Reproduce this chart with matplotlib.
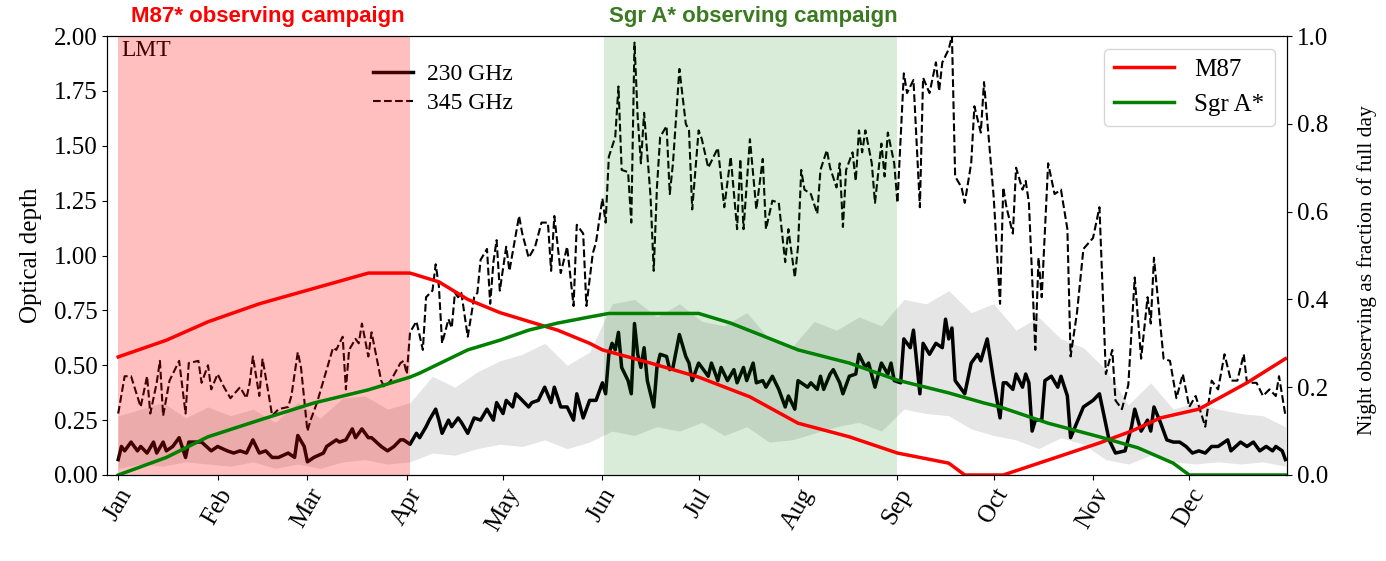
import numpy as np
import matplotlib
matplotlib.use('Agg')
import matplotlib.pyplot as plt

plt.rcParams['font.family'] = ['Liberation Serif', 'DejaVu Serif']
plt.rcParams['font.size'] = 18

# month start days (day of year, 0 = Jan 1)
month_days = [0, 31, 59, 90, 120, 151, 181, 212, 243, 273, 304, 334]
month_names = ['Jan', 'Feb', 'Mar', 'Apr', 'May', 'Jun',
               'Jul', 'Aug', 'Sep', 'Oct', 'Nov', 'Dec']

# 230 GHz median optical depth at LMT
days_230 = [0, 1, 2, 4, 6, 7, 9, 11, 12, 14, 15, 17, 19, 21, 22, 25, 26, 29, 31, 34,
            36, 38, 40, 42, 44, 46, 48, 50, 53, 55, 56, 58, 59, 61, 64, 65, 68, 69, 71, 73,
            74, 76, 78, 79, 82, 84, 86, 88, 89, 91, 93, 94, 96, 97, 99, 100, 101, 103, 104, 106,
            107, 109, 111, 113, 115, 117, 118, 120, 121, 123, 124, 126, 128, 129, 131, 133, 135, 136, 138, 140,
            142, 143, 145, 147, 149, 151, 152, 153, 154, 155, 156, 157, 159, 160, 161, 162, 163, 164, 165, 167,
            168, 169, 171, 172, 173, 175, 177, 178, 179, 181, 182, 184, 185, 187, 188, 190, 192, 193, 195, 196,
            198, 199, 201, 202, 204, 206, 208, 209, 211, 212, 213, 215, 216, 218, 219, 220, 222, 223, 225, 226,
            228, 230, 231, 233, 234, 236, 238, 240, 241, 242, 244, 245, 247, 248, 250, 251, 253, 255, 257, 258,
            259, 260, 261, 264, 266, 268, 269, 271, 273, 275, 276, 277, 279, 280, 282, 283, 284, 285, 286, 288,
            289, 291, 293, 294, 296, 297, 299, 301, 303, 304, 306, 307, 309, 311, 314, 316, 317, 319, 321, 322,
            323, 325, 327, 329, 331, 333, 335, 337, 339, 341, 343, 346, 347, 350, 352, 354, 356, 358, 360, 361,
            363, 364]
tau_230 = [0.07, 0.13, 0.11, 0.15, 0.11, 0.13, 0.10, 0.15, 0.10, 0.15, 0.11, 0.13, 0.17, 0.08, 0.15, 0.15, 0.15, 0.11, 0.13, 0.11,
           0.10, 0.11, 0.10, 0.16, 0.10, 0.11, 0.08, 0.08, 0.10, 0.08, 0.18, 0.13, 0.06, 0.08, 0.10, 0.13, 0.16, 0.15, 0.16, 0.21,
           0.17, 0.21, 0.17, 0.17, 0.13, 0.11, 0.13, 0.16, 0.16, 0.14, 0.19, 0.17, 0.22, 0.25, 0.30, 0.25, 0.19, 0.25, 0.22, 0.26,
           0.24, 0.19, 0.26, 0.25, 0.30, 0.25, 0.33, 0.28, 0.34, 0.31, 0.37, 0.34, 0.31, 0.33, 0.34, 0.40, 0.33, 0.40, 0.31, 0.31,
           0.25, 0.37, 0.26, 0.34, 0.34, 0.42, 0.37, 0.55, 0.60, 0.57, 0.65, 0.49, 0.43, 0.37, 0.69, 0.55, 0.49, 0.58, 0.43, 0.31,
           0.49, 0.55, 0.54, 0.48, 0.49, 0.64, 0.54, 0.51, 0.43, 0.51, 0.49, 0.45, 0.51, 0.43, 0.49, 0.43, 0.48, 0.42, 0.49, 0.43,
           0.51, 0.42, 0.43, 0.40, 0.45, 0.39, 0.31, 0.36, 0.30, 0.43, 0.42, 0.40, 0.42, 0.39, 0.45, 0.39, 0.46, 0.48, 0.42, 0.37,
           0.45, 0.46, 0.55, 0.49, 0.51, 0.40, 0.51, 0.46, 0.51, 0.43, 0.42, 0.62, 0.58, 0.66, 0.37, 0.60, 0.55, 0.60, 0.58, 0.71,
           0.62, 0.67, 0.43, 0.37, 0.51, 0.55, 0.52, 0.62, 0.43, 0.26, 0.42, 0.42, 0.39, 0.46, 0.40, 0.46, 0.42, 0.20, 0.25, 0.25,
           0.43, 0.45, 0.40, 0.45, 0.36, 0.17, 0.24, 0.31, 0.33, 0.34, 0.37, 0.30, 0.16, 0.10, 0.11, 0.22, 0.30, 0.20, 0.25, 0.20,
           0.31, 0.24, 0.16, 0.15, 0.15, 0.13, 0.10, 0.11, 0.10, 0.13, 0.13, 0.16, 0.11, 0.15, 0.13, 0.15, 0.11, 0.13, 0.11, 0.13,
           0.11, 0.07]

# spread of 230 GHz optical depth (grey band)
band_days = [0, 7, 14, 21, 28, 35, 42, 49, 56, 63, 70, 77, 84, 91, 98, 105, 112, 119, 126, 133,
             140, 147, 154, 161, 168, 175, 182, 189, 196, 203, 210, 217, 224, 231, 238, 245, 252, 259, 266, 273,
             280, 287, 294, 301, 308, 315, 322, 329, 336, 343, 350, 357, 364]
band_low = [0.03, 0.05, 0.04, 0.06, 0.05, 0.04, 0.06, 0.03, 0.05, 0.03, 0.06, 0.07, 0.05, 0.06, 0.10, 0.09, 0.12, 0.14, 0.13, 0.16,
            0.12, 0.15, 0.20, 0.18, 0.22, 0.20, 0.24, 0.18, 0.22, 0.15, 0.16, 0.19, 0.22, 0.24, 0.20, 0.30, 0.28, 0.27, 0.21, 0.18,
            0.16, 0.12, 0.17, 0.14, 0.07, 0.05, 0.09, 0.06, 0.05, 0.06, 0.05, 0.06, 0.04]
band_high = [0.27, 0.30, 0.33, 0.26, 0.31, 0.27, 0.30, 0.24, 0.33, 0.26, 0.35, 0.36, 0.30, 0.33, 0.45, 0.40, 0.47, 0.52, 0.55, 0.60,
             0.50, 0.56, 0.78, 0.80, 0.72, 0.78, 0.70, 0.68, 0.74, 0.62, 0.58, 0.70, 0.66, 0.72, 0.68, 0.80, 0.78, 0.84, 0.74, 0.78,
             0.66, 0.72, 0.62, 0.58, 0.48, 0.32, 0.42, 0.30, 0.33, 0.30, 0.28, 0.27, 0.22]

# 345 GHz median optical depth at LMT
days_345 = [0, 2, 4, 7, 9, 10, 12, 13, 14, 16, 19, 21, 22, 25, 26, 28, 29, 31, 33, 35,
            38, 40, 41, 42, 44, 45, 47, 48, 50, 53, 54, 56, 57, 59, 60, 62, 64, 67, 68, 70,
            71, 72, 74, 75, 76, 78, 79, 82, 83, 85, 88, 89, 90, 91, 93, 95, 96, 98, 99, 100,
            101, 103, 104, 105, 106, 107, 109, 111, 112, 113, 115, 116, 117, 118, 119, 121, 122, 125, 126, 128,
            130, 132, 134, 135, 136, 138, 140, 142, 143, 145, 146, 148, 149, 151, 152, 153, 155, 156, 157, 159,
            160, 161, 162, 163, 164, 166, 167, 168, 169, 171, 172, 173, 175, 177, 178, 179, 181, 182, 184, 187,
            189, 191, 193, 194, 195, 197, 199, 201, 202, 204, 206, 208, 209, 211, 212, 213, 214, 216, 218, 219,
            221, 222, 224, 225, 226, 227, 229, 230, 231, 232, 233, 235, 236, 238, 239, 240, 242, 243, 245, 246,
            248, 250, 251, 253, 255, 256, 257, 259, 260, 261, 263, 264, 266, 267, 269, 270, 273, 275, 276, 277,
            279, 280, 282, 283, 284, 286, 287, 288, 290, 292, 294, 296, 297, 299, 301, 304, 306, 308, 310, 311,
            313, 315, 317, 319, 321, 322, 323, 326, 328, 330, 332, 334, 336, 339, 341, 343, 345, 347, 349, 351,
            352, 355, 357, 359, 361, 362, 364]
tau_345 = [0.28, 0.45, 0.45, 0.31, 0.45, 0.28, 0.42, 0.52, 0.27, 0.43, 0.52, 0.28, 0.51, 0.52, 0.42, 0.50, 0.39, 0.46, 0.40, 0.35,
           0.40, 0.35, 0.42, 0.54, 0.36, 0.53, 0.36, 0.27, 0.30, 0.31, 0.36, 0.56, 0.49, 0.20, 0.25, 0.33, 0.43, 0.58, 0.57, 0.63,
           0.39, 0.57, 0.62, 0.60, 0.69, 0.54, 0.65, 0.43, 0.40, 0.43, 0.51, 0.52, 0.46, 0.65, 0.70, 0.57, 0.81, 0.84, 0.96, 0.86,
           0.60, 0.71, 0.67, 0.83, 0.81, 0.83, 0.63, 0.81, 0.83, 0.98, 1.03, 0.78, 0.97, 1.07, 0.84, 1.04, 0.93, 1.18, 1.10, 0.99,
           1.04, 1.15, 1.15, 0.93, 1.18, 0.92, 1.04, 0.77, 1.14, 1.10, 0.77, 1.01, 1.06, 1.26, 1.15, 1.45, 1.54, 1.77, 1.39, 1.38,
           1.15, 1.97, 1.63, 1.42, 1.65, 1.27, 0.93, 1.31, 1.54, 1.59, 1.28, 1.42, 1.85, 1.60, 1.57, 1.21, 1.57, 1.53, 1.40, 1.49,
           1.22, 1.45, 1.12, 1.44, 1.12, 1.53, 1.21, 1.44, 1.12, 1.25, 1.24, 0.97, 1.12, 0.90, 1.04, 1.39, 1.30, 1.28, 1.19, 1.39,
           1.48, 1.40, 1.31, 1.42, 1.13, 1.39, 1.47, 1.34, 1.57, 1.47, 1.57, 1.42, 1.24, 1.51, 1.36, 1.56, 1.42, 1.24, 1.83, 1.74,
           1.80, 1.22, 1.81, 1.74, 1.88, 1.75, 1.88, 1.94, 2.00, 1.36, 1.31, 1.24, 1.42, 1.68, 1.56, 1.79, 1.27, 0.78, 1.31, 1.22,
           1.10, 1.40, 1.30, 1.34, 1.24, 0.57, 0.99, 0.81, 1.42, 1.28, 1.30, 1.12, 0.54, 0.74, 1.03, 1.08, 1.22, 0.46, 0.57, 0.34,
           0.30, 0.41, 0.90, 0.53, 0.81, 0.69, 0.99, 0.53, 0.52, 0.35, 0.46, 0.31, 0.36, 0.22, 0.43, 0.39, 0.55, 0.43, 0.43, 0.55,
           0.42, 0.42, 0.36, 0.39, 0.36, 0.45, 0.27]

# night fraction available for each source
days_m87 = [0, 15, 28, 44, 61, 78, 91, 100, 109, 119, 128, 137, 147, 151, 166, 181, 197, 212, 228, 243,
            259, 264, 276, 290, 306, 316, 325, 337, 352, 364]
night_m87 = [0.269, 0.307, 0.349, 0.39, 0.425, 0.46, 0.46, 0.44, 0.40, 0.37, 0.35, 0.33, 0.30, 0.285, 0.255, 0.223, 0.178, 0.118, 0.087, 0.05,
             0.027, 0.0, 0.0, 0.034, 0.073, 0.10, 0.13, 0.15, 0.21, 0.265]
days_sgra = [0, 15, 28, 44, 61, 78, 91, 94, 109, 119, 128, 137, 147, 153, 170, 181, 191, 200, 212, 228,
             243, 259, 270, 275, 290, 306, 318, 329, 334, 364]
night_sgra = [0.0, 0.04, 0.087, 0.125, 0.164, 0.194, 0.223, 0.232, 0.285, 0.307, 0.33, 0.346, 0.36, 0.368, 0.368, 0.368, 0.346, 0.32, 0.285, 0.255,
              0.216, 0.187, 0.164, 0.155, 0.118, 0.087, 0.062, 0.027, 0.0, 0.0]

fig = plt.figure(figsize=(13.86, 5.61), dpi=100)
ax = fig.add_axes([0.0772, 0.1533, 0.8514, 0.7825])

ax.fill_between(band_days, band_low, band_high, color='0.5', alpha=0.2, lw=0)
ax.plot(days_230, tau_230, color='k', lw=2.5, label='230 GHz')
ax.plot(days_345, tau_345, color='k', lw=1.5, ls='--', label='345 GHz')
ax.text(0.012, 0.99, 'LMT', transform=ax.transAxes, ha='left', va='top', fontsize=17)
ax.legend(loc='upper left', bbox_to_anchor=(0.207, 0.985), frameon=False, fontsize=17,
          handlelength=1.7, handletextpad=0.6, labelspacing=0.3)

ax.set_xlim(-3.5, 364.5)
ax.set_ylim(0, 2)
ax.set_yticks(np.arange(0, 2.01, 0.25))
ax.set_yticklabels(['%.2f' % v for v in np.arange(0, 2.01, 0.25)])
ax.set_ylabel('Optical depth', labelpad=8)
ax.set_xticks(month_days)
ax.set_xticklabels(month_names, rotation=60)

ax2 = ax.twinx()
ax2.plot(days_m87, night_m87, color='red', lw=2.5, label='M87')
ax2.plot(days_sgra, night_sgra, color='green', lw=2.5, label='Sgr A*')
ax2.axvspan(0, 91, color='red', alpha=0.25, lw=0)
ax2.axvspan(151.5, 243, color='green', alpha=0.15, lw=0)
ax2.set_ylim(0, 1)
ax2.set_ylabel('Night observing as fraction of full day', fontsize=15.5)
ax2.yaxis.set_label_coords(1.059, 0.467)
ax2.legend(loc='upper right', fontsize=18, handlelength=2.4)

fig.text(0.1934, 0.97, 'M87* observing campaign', color='red', fontsize=16,
         fontweight='bold', family='Liberation Sans', ha='center', va='center')
fig.text(0.5437, 0.97, 'Sgr A* observing campaign', color='#3a7a20', fontsize=16,
         fontweight='bold', family='Liberation Sans', ha='center', va='center')

fig.savefig('out.png', dpi=100)
